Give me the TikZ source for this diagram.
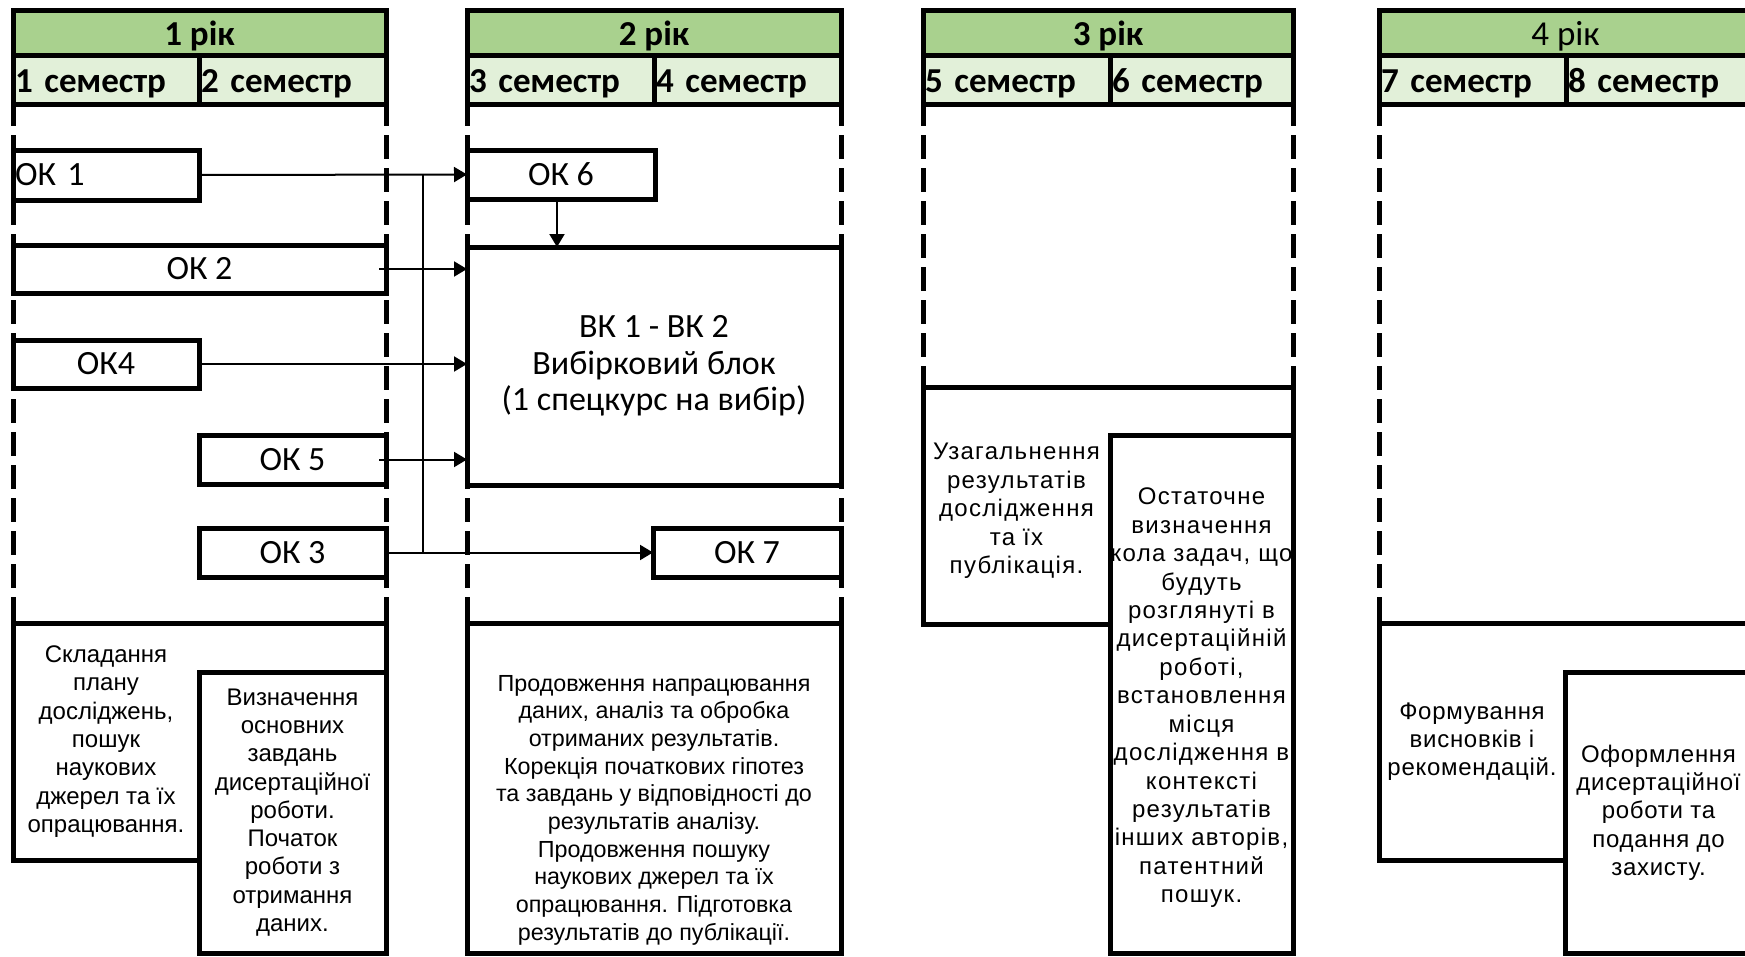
\documentclass[tikz,border=0pt]{standalone}
\usepackage{fontspec}
\setmainfont{Carlito}
\newfontfamily\arialf{Liberation Sans}
\newfontfamily\arialw[LetterSpace=5.5]{Liberation Sans}
\newfontfamily\arialv[LetterSpace=3]{Liberation Sans}
\usetikzlibrary{arrows.meta}
\definecolor{yearg}{RGB}{169,209,142}
\definecolor{semg}{RGB}{226,240,217}
\begin{document}
\begin{tikzpicture}[x=1pt,y=-1pt,
  yearcell/.style={draw, line width=5pt, fill=yearg, inner sep=0pt, outer sep=0pt, text height=30pt, text depth=5pt, font=\fontsize{35}{40}\selectfont},
  semcell/.style={draw, line width=5pt, fill=semg, inner xsep=2pt, inner ysep=0pt, outer sep=0pt, text height=30pt, text depth=5pt, align=left, font=\bfseries\fontsize{35}{40}\selectfont},
  okbox/.style={draw, line width=5pt, fill=white, inner sep=0pt, outer sep=0pt, align=center, font=\fontsize{34}{40}\selectfont},
  txtbox/.style={draw, line width=5pt, fill=white, inner sep=0pt, outer sep=0pt, align=center, font=\arialf\fontsize{24}{28.3}\selectfont},
  txtfill/.style={fill=white, inner sep=0pt, outer sep=0pt, align=center, font=\arialf\fontsize{24}{28.3}\selectfont},
  plaintxt/.style={inner sep=0pt, outer sep=0pt, align=center, font=\arialf\fontsize{23.3}{27.7}\selectfont},
  dashcol/.style={line width=5pt, dash pattern=on 24pt off 9pt},
  frame/.style={line width=5pt},
  conn/.style={line width=2pt},
  arr/.style={line width=2pt, -{Triangle[length=13pt,width=15pt]}},
]
\useasboundingbox (0,0) rectangle (1745,956);
\clip (0,0) rectangle (1745,956);

% dashed column borders
\foreach \x in {13,386,467,841,1379} \draw[dashcol] (\x,102) -- (\x,623);
\foreach \x in {923,1293} \draw[dashcol] (\x,102) -- (\x,387);

% headers
\node[yearcell, font=\bfseries\fontsize{35}{40}\selectfont, minimum width=373, minimum height=45] (y1) at (199.5,32.5) {1 рік};
\node[semcell, minimum width=186, minimum height=49, text width=182pt] (s1) at (106,79.5) {1 семестр};
\node[semcell, minimum width=187, minimum height=49, text width=183pt] (s2) at (292.5,79.5) {2 семестр};

\node[yearcell, font=\bfseries\fontsize{35}{40}\selectfont, minimum width=374, minimum height=45] (y2) at (654,32.5) {2 рік};
\node[semcell, minimum width=187, minimum height=49, text width=183pt] (s3) at (560.5,79.5) {3 семестр};
\node[semcell, minimum width=187, minimum height=49, text width=183pt] (s4) at (747.5,79.5) {4 семестр};

\node[yearcell, font=\bfseries\fontsize{35}{40}\selectfont, minimum width=370, minimum height=45] (y3) at (1108,32.5) {3 рік};
\node[semcell, minimum width=187, minimum height=49, text width=183pt] (s5) at (1016.5,79.5) {5 семестр};
\node[semcell, minimum width=183, minimum height=49, text width=179pt] (s6) at (1201.5,79.5) {6 семестр};

\node[yearcell, minimum width=373, minimum height=45] (y4) at (1565.5,32.5) {4 рік};
\node[semcell, minimum width=187, minimum height=49, text width=183pt] (s7) at (1472.5,79.5) {7 семестр};
\node[semcell, minimum width=186, minimum height=49, text width=182pt] (s8) at (1659,79.5) {8 семестр};

% OK boxes
\node[okbox, minimum width=186, minimum height=50, text width=182pt, align=left, inner xsep=2pt] (ok1) at (106,175) {ОК 1};
\node[okbox, minimum width=373, minimum height=48] (ok2) at (199.5,269) {ОК 2};
\node[okbox, minimum width=186, minimum height=48] (ok4) at (106,364) {ОК4};
\node[okbox, minimum width=187, minimum height=49] (ok5) at (292.5,459.5) {ОК 5};
\node[okbox, minimum width=187, minimum height=49] (ok3) at (292.5,552.5) {ОК 3};
\node[okbox, minimum width=188, minimum height=49] (ok6) at (561,174.5) {ОК 6};
\node[okbox, minimum width=374, minimum height=238, font=\fontsize{34}{36.7}\selectfont] (vk) at (654,366) {ВК 1 - ВК 2\\Вибірковий блок\\(1 спецкурс на вибір)};
\node[okbox, minimum width=188, minimum height=49] (ok7) at (747,552.5) {ОК 7};

% bottom boxes, year 1
\node[txtfill, minimum width=186, minimum height=237] (b1l) at (106,741.5) {Складання\\плану\\досліджень,\\пошук\\наукових\\джерел та їх\\опрацювання.};
\node[txtbox, minimum width=187, minimum height=281] (b1r) at (292.5,812.5) {Визначення\\основних\\завдань\\дисертаційної\\роботи.\\Початок\\роботи з\\отримання\\даних.};
\draw[frame] (b1l.south east) -- (b1l.south west) -- (b1l.north west) -- (b1l.north west -| b1r.east) -- (b1r.north east);

% year 2
\node[txtbox, minimum width=374, minimum height=330] (b2) at (654,788) {};
\node[plaintxt, anchor=north] (b2t) at (654,675) {Продовження напрацювання\\даних, аналіз та обробка\\отриманих результатів.\\Корекція початкових гіпотез\\та завдань у відповідності до\\результатів аналізу.\\Продовження пошуку\\наукових джерел та їх\\опрацювання. Підготовка\\результатів до публікації.};

% year 3
\node[txtfill, minimum width=187, minimum height=237] (b3l) at (1016.5,505.5) {};
\node[plaintxt, anchor=north, font=\arialw\fontsize{24}{28.5}\selectfont] (b3lt) at (1016.5,443) {Узагальнення\\результатів\\дослідження\\та їх\\публікація.};
\node[txtbox, minimum width=183, minimum height=518] (b3r) at (1201.5,694) {};
\node[plaintxt, anchor=north, font=\arialw\fontsize{24}{28.43}\selectfont] (b3rt) at (1201.5,488) {Остаточне\\визначення\\кола задач, що\\будуть\\розглянуті в\\дисертаційній\\роботі,\\встановлення\\місця\\дослідження в\\контексті\\результатів\\інших авторів,\\патентний\\пошук.};
\draw[frame] (b3l.south east) -- (b3l.south west) -- (b3l.north west) -- (b3l.north west -| b3r.east) -- (b3r.north east);

% year 4
\node[txtfill, font=\arialv\fontsize{24}{28.3}\selectfont, minimum width=186, minimum height=237] (b4l) at (1472,741.5) {Формування\\висновків і\\рекомендацій.};
\node[txtbox, font=\arialv\fontsize{24}{28.3}\selectfont, minimum width=187, minimum height=281] (b4r) at (1658.5,812.5) {Оформлення\\дисертаційної\\роботи та\\подання до\\захисту.};
\draw[frame] (b4l.south east) -- (b4l.south west) -- (b4l.north west) -- (b4l.north west -| b4r.east) -- (b4r.north east);

% connectors
\coordinate (busx) at (423,0);
\draw[conn] (ok1.east -| busx) -- (ok3.east -| busx);
\draw[arr] (ok1.east) -- (ok6.west);
\draw[arr] ([xshift=-7pt]ok2.east) -- (ok2.east -| vk.west);
\draw[arr] (ok4.east) -- (ok4.east -| vk.west);
\draw[arr] ([xshift=-7pt]ok5.east) -- (ok5.east -| vk.west);
\draw[arr] (ok3.east) -- (ok7.west);
\draw[arr] ([xshift=-4pt]ok6.south) -- ([xshift=-4pt]ok6.south |- vk.north);
\end{tikzpicture}
\end{document}
